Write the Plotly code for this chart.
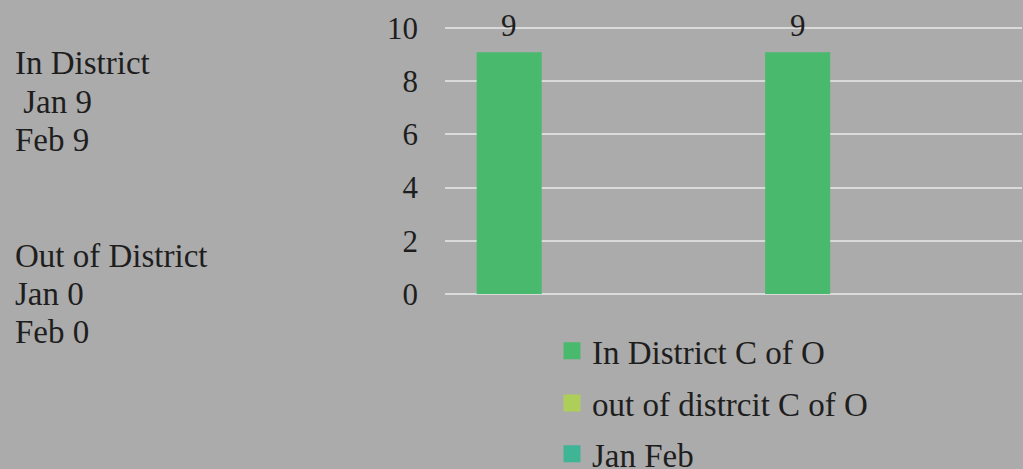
import plotly.graph_objects as go

# ---- data ----
categories = ["Jan", "Feb"]
series_names = ["In District C of O", "out of distrcit C of O", "Jan Feb"]
in_district = [9, 9]
out_district = [None, None]
jan_feb = [None, None]
series_values = [in_district, out_district, jan_feb]
series_colors = ["#48B96D", "#AECE5A", "#3FB596"]

left_lines = ["In District", "\u00a0Jan 9", "Feb 9", "Out of District", "Jan 0", "Feb 0"]
y_ticks = [0, 2, 4, 6, 8, 10]

# ---- layout geometry (pixels) ----
W, H = 1023, 469
ML, MR = 445, 1
Y0_PX, Y10_PX = 294.5, 27.6          # pixel rows of y=0 and y=10
YMAX = 10.04                          # a hair above 10 so the top gridline is drawn
px_per_unit = (Y0_PX - Y10_PX) / 10
MB = H - Y0_PX
MT = Y0_PX - YMAX * px_per_unit
plot_h = H - MT - MB
FONT = "Liberation Serif, Times New Roman, serif"
TXT = "#1e1e1e"
BG = "#ABABAB"

bargap = 0.1675
bargroupgap = 0.25
n_series = len(series_names)
slot = (1 - bargap) / n_series


def py(px):
    """pixel y (from top) -> paper y"""
    return (H - MB - px) / plot_h


def pxx(px):
    return (px - ML) / (W - ML - MR)


fig = go.Figure()
legends = ["legend", "legend2", "legend3"]
for name, vals, col, lg in zip(series_names, series_values, series_colors, legends):
    fig.add_trace(go.Bar(
        x=categories, y=vals, name=name,
        marker=dict(color=col, line=dict(color=col, width=5)),
        legend=lg, cliponaxis=False, hoverinfo="skip",
    ))

annotations = []
# data labels for the first series
for i, v in enumerate(in_district):
    if v is None:
        continue
    xc = i - (n_series - 1) / 2 * slot  # first series position in group
    annotations.append(dict(
        x=xc, y=v, xref="x", yref="y", text=str(v), showarrow=False,
        yanchor="bottom", yshift=10,
        font=dict(family=FONT, size=31, color=TXT),
    ))

# left-side text block
left_y = [63, 102, 139.5, 256, 294.5, 333]
for t, yp in zip(left_lines, left_y):
    annotations.append(dict(
        x=pxx(13), y=py(yp), xref="paper", yref="paper",
        text=t, showarrow=False, xanchor="left", yanchor="middle",
        font=dict(family=FONT, size=33, color=TXT),
    ))

legend_y = [351.5, 404, 455]
legend_common = dict(
    orientation="v", xanchor="left", yanchor="middle",
    x=pxx(552), bgcolor="rgba(0,0,0,0)",
    font=dict(family=FONT, size=33, color=TXT), borderwidth=0,
)

fig.update_layout(
    width=W, height=H,
    margin=dict(l=ML, r=MR, t=MT, b=MB, autoexpand=False),
    paper_bgcolor=BG, plot_bgcolor=BG,
    barmode="group", bargap=bargap, bargroupgap=bargroupgap,
    showlegend=True,
    legend=dict(**legend_common, y=py(legend_y[0])),
    legend2=dict(**legend_common, y=py(legend_y[1])),
    legend3=dict(**legend_common, y=py(legend_y[2])),
    annotations=annotations,
    xaxis=dict(
        type="category", range=[-0.5, 1.5], showticklabels=False,
        showgrid=False, zeroline=False, showline=False, ticks="",
    ),
    yaxis=dict(
        range=[0, YMAX], tickvals=y_ticks, showgrid=True,
        gridcolor="#DADADA", gridwidth=2, zeroline=True,
        zerolinecolor="#DADADA", zerolinewidth=2, showline=False,
        ticks="", ticklabelstandoff=26,
        tickfont=dict(family=FONT, size=31, color=TXT),
    ),
)

fig.write_html(
    "out.html",
    config={"displayModeBar": False},
    post_script="document.body.style.margin='0';",
)
